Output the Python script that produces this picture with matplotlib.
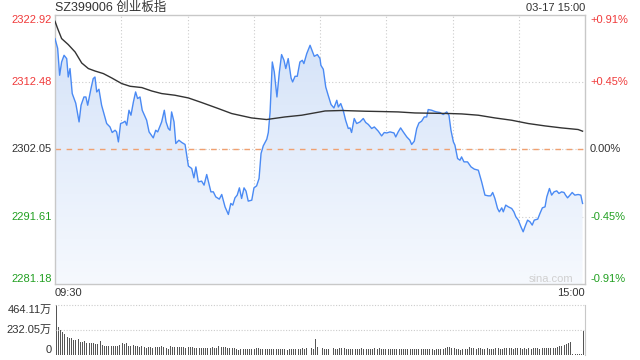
import numpy as np
import matplotlib
matplotlib.use('Agg')
import matplotlib.pyplot as plt
from matplotlib.colors import LinearSegmentedColormap

plt.rcParams['font.family'] = ['Liberation Sans', 'Noto Sans CJK SC', 'DejaVu Sans']

title = 'SZ399006 创业板指'
stamp = '03-17 15:00'
prev_close = 2302.05
price_ticks = [2281.18, 2291.61, 2302.05, 2312.48, 2322.92]
pct_labels = ['-0.91%', '-0.45%', '0.00%', '+0.45%', '+0.91%']
vol_ticks = [0, 232.05, 464.11]
vol_labels = ['0', '232.05万', '464.11万']
time_labels = ['09:30', '15:00']

# minutes after 09:30 (trading time, lunch break removed)
minutes = [
    0, 1.2, 2.1, 3.0, 4.1, 5.3, 6.0, 6.8, 7.8, 9.4,
    10.9, 11.8, 13.1, 14.0, 14.8, 16.3, 17.3, 18.1, 18.9, 19.9,
    21.1, 23.4, 24.9, 25.9, 27.2, 27.9, 28.7, 29.7, 30.9, 31.7,
    32.5, 33.5, 34.4, 35.5, 36.5, 37.4, 38.5, 39.5, 41.5, 42.6,
    44.5, 45.6, 46.5, 48.3, 49.5, 50.3, 51.3, 52.1, 52.8, 53.9,
    54.7, 56.1, 57.4, 58.9, 60.4, 61.9, 62.9, 63.8, 64.9, 66.4,
    67.5, 68.7, 70.6, 71.7, 72.8, 74.4, 75.5, 77.0, 78.5, 79.6,
    80.5, 81.5, 82.5, 83.5, 84.5, 85.6, 86.5, 87.5, 89.1, 90.1,
    91.3, 92.4, 93.3, 94.3, 95.9, 96.6, 97.4, 98.4, 99.3, 100.5,
    101.6, 102.6, 103.7, 104.5, 105.6, 106.9, 107.6, 108.7, 109.7, 110.9,
    112.0, 112.7, 114.0, 115.5, 117.4, 118.8, 120.0, 120.4, 121.5, 122.6,
    123.7, 125.0, 126.3, 127.6, 128.3, 129.4, 130.5, 131.6, 132.8, 133.6,
    134.3, 135.5, 136.6, 138.1, 139.6, 140.7, 141.9, 143.4, 144.6, 146.4,
    147.9, 149.1, 150.2, 151.7, 153.5, 154.3, 155.4, 156.5, 157.7, 159.3,
    160.7, 161.5, 162.7, 163.8, 164.8, 166.0, 167.2, 168.3, 169.0, 170.6,
    171.7, 172.8, 174.3, 175.8, 177.4, 178.4, 179.3, 180.4, 181.1, 182.3,
    183.4, 184.1, 185.2, 186.8, 188.4, 189.9, 191.7, 193.2, 194.7, 196.2,
    197.3, 198.2, 199.2, 200.4, 201.2, 202.3, 203.0, 204.1, 205.3, 206.8,
    207.8, 208.7, 209.8, 211.0, 212.0, 212.8, 214.0, 215.1, 216.1, 217.0,
    218.6, 219.6, 220.7, 221.9, 222.7, 223.9, 224.9, 226.0, 227.2, 228.2,
    229.4, 230.5, 231.2, 232.1, 233.2, 234.2, 235.4, 236.9, 238.1, 238.9,
]
price = [
    2319.25, 2317.75, 2313.57, 2315.63, 2316.67, 2316.15, 2313.30, 2314.61, 2310.73, 2309.23,
    2306.33, 2308.92, 2310.20, 2310.20, 2308.92, 2311.51, 2313.05, 2313.30, 2310.98, 2311.40,
    2308.92, 2306.08, 2305.55, 2304.69, 2305.04, 2304.78, 2303.23, 2306.08, 2306.24, 2306.44,
    2305.82, 2308.14, 2307.37, 2309.43, 2310.98, 2309.96, 2310.20, 2308.14, 2306.59, 2304.78,
    2303.85, 2305.04, 2304.78, 2306.33, 2308.14, 2306.33, 2305.31, 2305.04, 2307.88, 2306.33,
    2302.98, 2303.49, 2303.14, 2302.83, 2299.49, 2299.10, 2297.65, 2299.35, 2297.03, 2297.14,
    2296.52, 2298.17, 2295.48, 2295.48, 2294.70, 2294.35, 2295.07, 2293.15, 2291.97, 2293.68,
    2293.42, 2294.55, 2294.97, 2296.10, 2294.45, 2296.10, 2295.59, 2294.04, 2294.19, 2296.10,
    2296.41, 2297.55, 2301.43, 2302.61, 2303.65, 2304.69, 2307.88, 2315.63, 2314.08, 2310.20,
    2314.08, 2316.78, 2315.89, 2314.61, 2316.16, 2313.15, 2312.53, 2313.41, 2313.41, 2315.63,
    2315.89, 2315.38, 2316.93, 2318.22, 2316.51, 2316.78, 2316.16, 2315.12, 2314.50, 2311.75,
    2310.47, 2309.03, 2308.50, 2309.69, 2308.65, 2309.18, 2308.14, 2306.59, 2305.31, 2305.40,
    2304.69, 2306.86, 2306.08, 2306.33, 2306.86, 2306.24, 2305.93, 2305.31, 2305.55, 2304.89,
    2304.16, 2304.69, 2304.62, 2304.78, 2304.62, 2304.00, 2304.78, 2305.40, 2304.78, 2304.00,
    2303.49, 2302.83, 2303.34, 2305.31, 2306.17, 2306.44, 2307.10, 2307.10, 2308.25, 2308.14,
    2307.99, 2307.88, 2307.79, 2307.48, 2307.88, 2307.37, 2305.04, 2303.23, 2302.72, 2300.65,
    2300.39, 2300.90, 2300.13, 2300.13, 2299.35, 2299.00, 2298.84, 2297.03, 2294.97, 2294.86,
    2294.86, 2295.38, 2294.45, 2292.90, 2292.38, 2293.00, 2292.38, 2293.42, 2293.15, 2292.90,
    2292.38, 2291.60, 2291.09, 2290.05, 2289.28, 2290.05, 2291.09, 2290.83, 2290.32, 2291.09,
    2291.25, 2292.13, 2293.00, 2293.15, 2294.70, 2296.00, 2294.97, 2295.48, 2295.63, 2295.23,
    2295.48, 2295.38, 2294.97, 2294.55, 2294.97, 2295.38, 2294.97, 2295.07, 2294.97, 2293.68,
]

avg_minutes = [
    0, 1.2, 3.0, 6.0, 9.1, 12.1, 15.1, 18.1, 21.9, 25.7,
    30.2, 34.0, 39.3, 43.8, 48.3, 54.3, 60.4, 66.4, 73.9, 80.0,
    89.0, 95.8, 104.1, 111.7, 120.0, 122.3, 129.8, 140.4, 147.9, 155.4,
    163.0, 170.6, 178.9, 184.2, 191.7, 199.2, 206.8, 214.3, 221.9, 229.4,
    236.9, 238.9,
]
avg_price = [
    2321.94, 2320.81, 2319.26, 2318.33, 2317.18, 2315.47, 2314.61, 2314.23, 2313.83, 2313.15,
    2312.28, 2311.86, 2311.66, 2311.13, 2310.73, 2310.47, 2310.05, 2309.34, 2308.41, 2307.63,
    2306.95, 2306.70, 2307.10, 2307.37, 2307.88, 2308.03, 2308.10, 2307.99, 2307.94, 2307.88,
    2307.72, 2307.68, 2307.63, 2307.57, 2307.37, 2306.95, 2306.59, 2306.08, 2305.71, 2305.40,
    2305.15, 2304.89,
]

# volume per minute, in 万
volume = [
    464, 263, 232, 210, 192, 170, 155, 161, 139, 139,
    145, 118, 124, 130, 108, 112, 108, 108, 105, 105,
    130, 93, 87, 87, 87, 84, 82, 84, 87, 93,
    108, 102, 108, 87, 87, 93, 80, 84, 74, 80,
    71, 68, 71, 74, 68, 74, 77, 77, 80, 71,
    65, 59, 80, 74, 74, 74, 74, 71, 71, 68,
    77, 74, 71, 68, 68, 68, 68, 65, 68, 68,
    65, 71, 68, 68, 80, 71, 74, 74, 68, 65,
    65, 62, 56, 50, 56, 53, 53, 53, 53, 56,
    53, 62, 62, 59, 53, 53, 53, 56, 56, 59,
    53, 53, 53, 56, 53, 50, 56, 56, 53, 53,
    59, 56, 62, 53, 62, 62, 62, 56, 148, 74,
    68, 65, 56, 56, 56, 62, 62, 59, 56, 62,
    62, 65, 59, 59, 56, 56, 56, 56, 59, 62,
    56, 53, 53, 56, 59, 65, 59, 62, 59, 56,
    53, 56, 56, 59, 53, 53, 56, 56, 56, 53,
    53, 56, 56, 59, 53, 56, 56, 56, 53, 59,
    53, 53, 50, 56, 56, 59, 59, 68, 71, 71,
    62, 62, 56, 56, 50, 53, 56, 56, 74, 62,
    62, 59, 62, 62, 53, 56, 62, 56, 56, 59,
    68, 62, 59, 56, 65, 68, 65, 62, 59, 62,
    65, 62, 59, 62, 59, 62, 59, 62, 65, 62,
    59, 62, 65, 65, 62, 68, 65, 68, 74, 80,
    87, 93, 105, 114, 120, 5, 5, 5, 5, 5,
    223,
]

W, H = 640, 360
fig = plt.figure(figsize=(6.4, 3.6), dpi=100)
ax = fig.add_axes([55 / W, 1 - 284 / H, 530 / W, 269 / H])
axv = fig.add_axes([55 / W, 5 / H, 530 / W, 50 / H])

lo, hi = price_ticks[0], price_ticks[-1]
grid_c = '#cccccc'
red, green = '#f03a3a', '#22a022'

# gradient fill under the price line
poly = ax.fill_between(minutes, price, lo, color='none', lw=0)
cmap = LinearSegmentedColormap.from_list('fill', ['#f6f9fe', '#d2e1f8'])
grad = np.linspace(0, 1, 256).reshape(-1, 1)
img = ax.imshow(grad, cmap=cmap, aspect='auto', origin='lower',
                extent=[0, 240, lo, hi], zorder=1)
img.set_clip_path(poly.get_paths()[0], transform=ax.transData)

for p in price_ticks[1:4]:
    ax.axhline(p, color=grid_c, lw=0.8, ls=(0, (1, 2)), zorder=0)
for m in range(30, 240, 30):
    ax.axvline(m, color=grid_c, lw=0.8, ls=(0, (1, 2)), zorder=0)
ax.axhline(prev_close, color='#f0a070', lw=1, ls=(0, (4, 4)), zorder=2)

ax.plot(minutes, price, color='#4a8af4', lw=1, zorder=3)
ax.plot(avg_minutes, avg_price, color='#333333', lw=1, zorder=4)

ax.set_xlim(0, 240)
ax.set_ylim(lo, hi)
ax.set_xticks([])
ax.set_yticks([])
for s in ax.spines.values():
    s.set_color('#c8c8c8')
    s.set_linewidth(1)

tr = ax.get_yaxis_transform()
vas = ['bottom', 'center', 'center', 'center', 'top']
lcols = [green, green, '#333333', red, red]
for p, lab, va, c in zip(price_ticks, pct_labels, vas, lcols):
    ax.text(-3 / 530, p, f'{p:.2f}', transform=tr, ha='right', va=va,
            color=c, fontsize=8)
    ax.text(1 + 5 / 530, p, lab, transform=tr, ha='left', va=va,
            color=c, fontsize=8)

fig.text(573 / W, 1 - 279 / H, 'sina.com', ha='right', va='center',
         color='#d0d0d0', fontsize=8)
fig.text(55 / W, 1 - 8 / H, title, ha='left', va='center', fontsize=9,
         color='#333333')
fig.text(585 / W, 1 - 8 / H, stamp, ha='right', va='center', fontsize=8,
         color='#333333')
fig.text(55 / W, 1 - 293.5 / H, time_labels[0], ha='left', va='center',
         fontsize=8, color='#333333')
fig.text(585 / W, 1 - 293.5 / H, time_labels[1], ha='right', va='center',
         fontsize=8, color='#333333')

# volume panel
axv.bar(range(len(volume)), volume, width=0.45, color='#555555', lw=0)
axv.set_xlim(-0.5, len(volume) - 0.5)
axv.set_ylim(0, vol_ticks[-1])
for v in vol_ticks[1:]:
    axv.axhline(v, color=grid_c, lw=0.8, ls=(0, (1, 1.5)), clip_on=False)
axv.set_xticks([])
axv.set_yticks([])
for k in ['left', 'top', 'bottom']:
    axv.spines[k].set_visible(False)
axv.spines['right'].set_color('#c8c8c8')
trv = axv.get_yaxis_transform()
for v, lab, va in zip(vol_ticks, vol_labels, ['bottom', 'center', 'top']):
    axv.text(-3 / 530, v, lab, transform=trv, ha='right', va=va,
             fontsize=8, color='#333333')

fig.savefig('out.png', dpi=100)
